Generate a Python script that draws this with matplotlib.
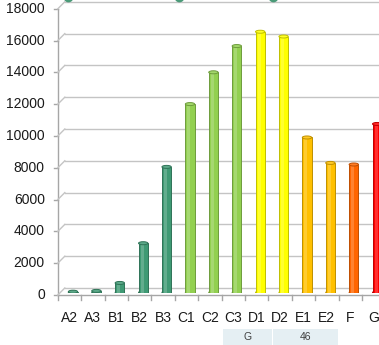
import matplotlib
matplotlib.use("Agg")
import matplotlib.pyplot as plt
import matplotlib.colors as mcolors
from matplotlib.patches import Ellipse, Rectangle
from matplotlib.lines import Line2D
from matplotlib.transforms import offset_copy, IdentityTransform

plt.rcParams['font.family'] = ['Liberation Sans', 'DejaVu Sans']

categories = ["A2", "A3", "B1", "B2", "B3", "C1", "C2", "C3", "D1", "D2", "E1", "E2", "F", "G"]
values = [50, 100, 600, 3100, 7900, 11850, 13850, 15500, 16400, 16100, 9750, 8150, 8050, 10600]
colors = ["#3f9a74"] * 5 + ["#92d050"] * 3 + ["#ffff00"] * 2 + ["#ffc000"] * 2 + ["#ff6600", "#ff0000"]
yticks = list(range(0, 18001, 2000))
table_cells = ["G", "46"]
top_marks_x = [-0.2, 4.55, 8.55]
top_marks_y = [18610, 18610, 18610]


def shade(c, f):
    r, g, b = mcolors.to_rgb(c)
    if f > 0:
        return (r + (1 - r) * f, g + (1 - g) * f, b + (1 - b) * f)
    return (r * (1 + f), g * (1 + f), b * (1 + f))


W, H = 379, 345
fig = plt.figure(figsize=(W / 100, H / 100), dpi=100)
step = 23.4
left_px = 61.3
right_px = W + 30
ax = fig.add_axes([left_px / W, 52.5 / H, (right_px - left_px) / W, 286.2 / H])
xmin, xmax = -0.5, -0.5 + (right_px - left_px) / step
ax.set_xlim(xmin, xmax)
ax.set_ylim(0, 18000)
ax.axis('off')

# 3d look: front plane and back wall shifted from the bar plane
front = offset_copy(ax.transData, fig=fig, x=-3.5, y=-2.5, units='dots')
back = offset_copy(ax.transData, fig=fig, x=3.5, y=4.5, units='dots')
grid_c = '#c4c4c4'
axis_c = '#a6a6a6'

for v in yticks:
    ax.plot([xmin, xmax], [v, v], transform=back, color=grid_c, lw=1, clip_on=False, zorder=1)
    fx, fy = front.transform((xmin, v))
    bx, by = back.transform((xmin, v))
    fig.add_artist(Line2D([fx, bx], [fy, by], transform=IdentityTransform(), color=grid_c, lw=1))
    ax.plot([xmin - 4 / step, xmin], [v, v], transform=front, color=axis_c, lw=1, clip_on=False)
    ax.text(xmin, v, str(v), transform=offset_copy(ax.transData, fig=fig, x=-16.5, y=-2.5, units='dots'),
            ha='right', va='center', fontsize=10, color='#1a1a1a')

# front axis lines
ax.plot([xmin, xmin], [0, 18000], transform=front, color=axis_c, lw=1, clip_on=False)
ax.plot([xmin, xmax], [0, 0], transform=front, color=axis_c, lw=1, clip_on=False)

x = list(range(len(categories)))
for i in range(len(categories) + 1):
    b = i - 0.5
    ax.plot([b, b], [0, -300], transform=front, color=axis_c, lw=1, clip_on=False)
for i, cat in enumerate(categories):
    ax.text(i, 0, cat, transform=offset_copy(ax.transData, fig=fig, x=-3.5, y=-25.5, units='dots'),
            ha='center', va='center', fontsize=10, color='#1a1a1a')

# cylinder bars
bw = 0.4
edges = [shade(c, -0.25) for c in colors]
lights = [shade(c, 0.35) for c in colors]
for i, v in enumerate(values):
    ax.add_patch(Ellipse((i, 0), bw, 190, facecolor=colors[i], edgecolor=edges[i], lw=0.7, zorder=2))
ax.bar(x, values, width=bw, color=colors, edgecolor=edges, linewidth=0.7, zorder=3)
ax.bar([i - 0.05 for i in x], values, width=0.13, color=lights, alpha=0.55, linewidth=0, zorder=3.5)
for i, v in enumerate(values):
    ax.add_patch(Ellipse((i, v), bw, 190, facecolor=shade(colors[i], 0.15), edgecolor=edges[i],
                         lw=0.7, zorder=4))

ax.plot(top_marks_x, top_marks_y, 'o', color='#4a9a78', markersize=6, clip_on=False, zorder=5)

# small table below the axis
cells = [(223, 49), (273, 65)]
for (cx, cw), txt in zip(cells, table_cells):
    fig.add_artist(Rectangle((cx / W, 0), cw / W, 16 / H, transform=fig.transFigure,
                             facecolor='#e5eff3', edgecolor='none'))
    fig.text((cx + cw / 2) / W, 8 / H, txt, ha='center', va='center', fontsize=7.5, color='#404040')

fig.savefig('out.png', dpi=100)
